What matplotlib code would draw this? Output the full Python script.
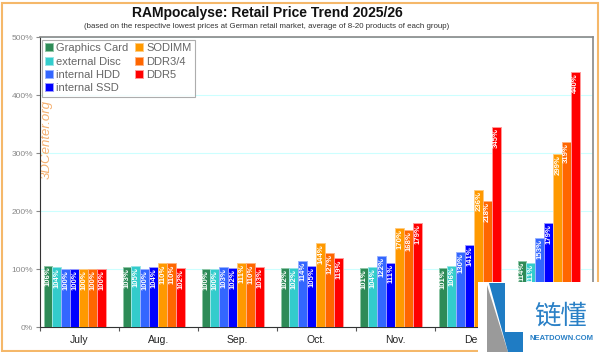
import numpy as np
import matplotlib.pyplot as plt
from matplotlib.patches import Rectangle, Polygon

plt.rcParams['font.family'] = ['Liberation Sans', 'DejaVu Sans']

months = ['July', 'Aug.', 'Sep.', 'Oct.', 'Nov.', 'Dec.', 'Jan.']
series = ['Graphics Card', 'external Disc', 'internal HDD', 'internal SSD',
          'SODIMM', 'DDR3/4', 'DDR5']
colors = ['#2e8b57', '#33cccc', '#3366ff', '#0000ff', '#ff9900', '#ff6600', '#ff0000']
edges = ['#8fc7a6', '#99e6e6', '#99b3ff', '#9999ff', '#ffcc80', '#ffb380', '#ff9999']

graphics_card = [106, 103, 100, 102, 101, 101, 114]
external_disc = [104, 105, 100, 102, 104, 106, 111]
internal_hdd = [100, 100, 103, 114, 122, 130, 153]
internal_ssd = [100, 104, 102, 105, 111, 141, 179]
sodimm = [100, 110, 111, 144, 170, 236, 299]
ddr34 = [100, 110, 110, 127, 168, 218, 319]
ddr5 = [100, 102, 103, 119, 179, 345, 440]
values = [graphics_card, external_disc, internal_hdd, internal_ssd, sodimm, ddr34, ddr5]

fig = plt.figure(figsize=(6.0, 3.52), dpi=100)
ax = fig.add_axes([40 / 600, 1 - 327 / 352, 553 / 600, 290 / 352])

bar_w = 0.113
offset = 0.045
x = np.arange(len(months))
for k, (name, vals) in enumerate(zip(series, values)):
    xs = x + offset + k * bar_w
    ax.bar(xs, vals, width=bar_w, align='edge', color=colors[k],
           edgecolor=edges[k], linewidth=0.7, label=name, zorder=3)
    for xi, v in zip(xs, vals):
        ax.text(xi + bar_w / 2, v - 2, f'{v}%', rotation=90, ha='center', va='top',
                fontsize=5.6, fontweight='bold', color='white', zorder=4)

ax.set_xlim(0, len(months))
ax.set_ylim(0, 500)
ax.set_yticks(range(0, 501, 100))
ax.set_yticklabels([f'{t}%' for t in range(0, 501, 100)])
ax.tick_params(axis='y', colors='#888888', labelsize=6, length=3, width=0.8, pad=2)
ax.set_xticks(x)
ax.set_xticklabels([])
ax.set_xticks(x + 0.5, minor=True)
ax.set_xticklabels(months, minor=True, fontsize=7.5, color='#222222')
ax.tick_params(axis='x', which='major', length=3, color='#555555')
ax.tick_params(axis='x', which='minor', length=0, pad=6)
ax.grid(axis='y', color='#ccffff', linewidth=0.8, zorder=0)

for side in ['left', 'bottom']:
    ax.spines[side].set_color('#333333')
for side in ['top', 'right']:
    ax.spines[side].set_color('#888888')
    ax.spines[side].set_linewidth(1.2)

leg = ax.legend(ncol=2, loc='upper left', bbox_to_anchor=(0.003, 0.99), fontsize=8,
                frameon=True, fancybox=False, edgecolor='#999999', handlelength=0.7,
                handleheight=0.7, handletextpad=0.3, columnspacing=0.6,
                labelspacing=0.3, borderpad=0.3, borderaxespad=0)
for t in leg.get_texts():
    t.set_color('#666666')
leg.get_frame().set_linewidth(0.8)

ax.text(0.0127, 0.648, '3DCenter.org', transform=ax.transAxes, rotation=90,
        ha='center', va='center', fontsize=9.5, style='italic', color='#f5b070', zorder=2)

fig.text(267 / 600, 1 - 13 / 352, 'RAMpocalyse: Retail Price Trend 2025/26', ha='center',
         va='center', fontsize=10, fontweight='bold', color='#111111')
fig.text(267 / 600, 1 - 27 / 352, '(based on the respective lowest prices at German retail market, '
         'average of 8-20 products of each group)', ha='center', va='center',
         fontsize=5.7, color='#333333')

# page border
fig.patches.append(Rectangle((1.5 / 600, 1.5 / 352), 596 / 600, 348 / 352,
                             transform=fig.transFigure, fill=False,
                             edgecolor='#f5b86a', linewidth=1.5))

# site watermark
fig.patches.append(Rectangle((478 / 600, 0), 122 / 600, 70 / 352, transform=fig.transFigure,
                             facecolor='white', edgecolor='none', zorder=10))
def fpt(px, py):
    return (px / 600, 1 - py / 352)
fig.patches.append(Polygon([fpt(487, 285), fpt(508, 352), fpt(487, 352)],
                           transform=fig.transFigure, facecolor='#9a9a9a',
                           edgecolor='none', zorder=11))
fig.patches.append(Polygon([fpt(489, 283), fpt(505, 283), fpt(505, 332), fpt(523, 332),
                            fpt(523, 352), fpt(508, 352)],
                           transform=fig.transFigure, facecolor='#1f7cc4',
                           edgecolor='none', zorder=11))
fig.text(561 / 600, 1 - 324 / 352, '链懂', ha='center', va='baseline', fontsize=19,
         color='#2a80c6', family=['Noto Sans CJK SC', 'DejaVu Sans'], zorder=12)
fig.text(561 / 600, 1 - 339 / 352, 'NEATDOWN.COM', ha='center', va='center',
         fontsize=5.5, fontweight='bold', color='#2a80c6', zorder=12)

fig.savefig('out.png', dpi=100)
